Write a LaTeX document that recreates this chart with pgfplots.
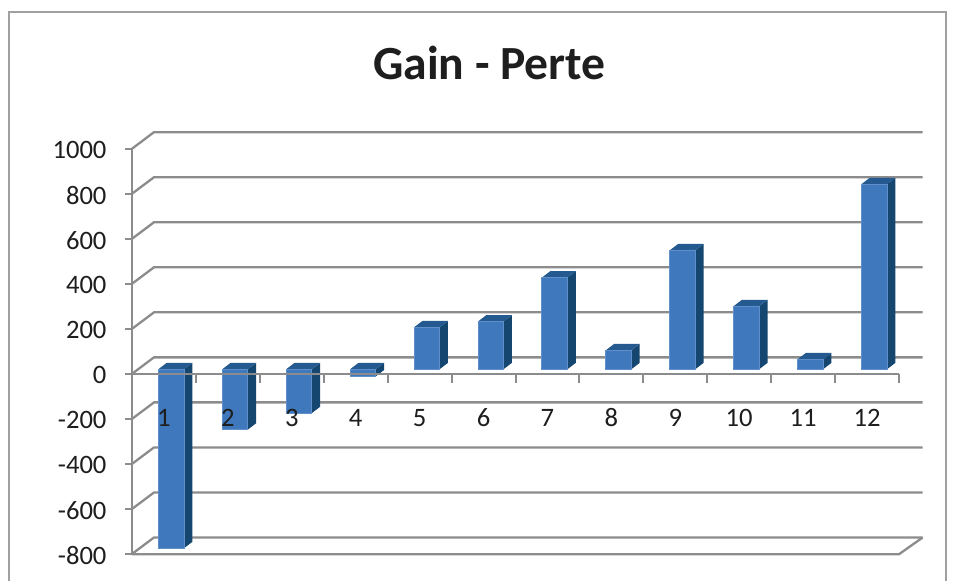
\documentclass[border=0pt]{standalone}
\usepackage{pgfplots}
\pgfplotsset{compat=1.18}
\usepackage{fontspec}
\setmainfont{Carlito}
\definecolor{barfront}{HTML}{3F78BC}
\definecolor{barside}{HTML}{144670}
\definecolor{bartop}{HTML}{245A90}
\definecolor{baredge}{HTML}{5F90C9}
\definecolor{wall}{HTML}{8C8C8C}
\definecolor{frameline}{HTML}{A0A0A0}
\definecolor{txt}{HTML}{1E1E1E}
% one back-wall gridline: y value
\newcommand\wallline[1]{%
  \pgfmathsetmacro\yb{#1+73.3}%
  \addplot[wall,line width=2.3pt,no markers] coordinates {(0.5,#1) (0.844,\yb) (12.87,\yb)};%
}
% one 3D bar: category, value
\newcommand\gbar[2]{%
  \pgfmathsetmacro\xa{#1+0.11-0.2}%
  \pgfmathsetmacro\xb{#1+0.11+0.2}%
  \pgfmathsetmacro\xc{\xb+0.133}%
  \pgfmathsetmacro\xd{\xa+0.133}%
  \pgfmathsetmacro\ytop{max(#2,0)+20}%
  \pgfmathsetmacro\ybot{min(#2,0)+20}%
  \pgfmathsetmacro\ytopb{\ytop+28.9}%
  \pgfmathsetmacro\ybotb{\ybot+28.9}%
  \addplot[fill=barside,draw=none,no markers] coordinates {(\xb,\ybot) (\xc,\ybotb) (\xc,\ytopb) (\xb,\ytop)} -- cycle;%
  \addplot[fill=bartop,draw=none,no markers] coordinates {(\xa,\ytop) (\xd,\ytopb) (\xc,\ytopb) (\xb,\ytop)} -- cycle;%
  \addplot[fill=barfront,draw=baredge,line width=0.5pt,no markers] coordinates {(\xa,\ybot) (\xa,\ytop) (\xb,\ytop) (\xb,\ybot)} -- cycle;%
}
\begin{document}
\begin{tikzpicture}[x=1pt,y=1pt]
\path[use as bounding box,fill=white] (0,0) rectangle (956,581);
\draw[frameline,line width=2pt] (8.5,-2) -- (8.5,568.5) -- (946,568.5) -- (946,-2);
\begin{axis}[
  at={(132pt,27pt)},anchor=south west,
  scale only axis,width=767pt,height=405.3pt,
  xmin=0.5,xmax=12.5,ymin=-800,ymax=1000,
  clip=false,axis on top,
  axis x line=middle,axis y line=left,
  axis line style={-,wall,line width=2.3pt},
  hide obscured x ticks=false,hide obscured y ticks=false,
  xtick={1,2,3,4,5,6,7,8,9,10,11,12},
  minor xtick={0.5,1.5,2.5,3.5,4.5,5.5,6.5,7.5,8.5,9.5,10.5,11.5,12.5},
  ytick={-800,-600,-400,-200,0,200,400,600,800,1000},
  tick align=outside,
  major tick length=7pt,minor tick length=9pt,
  tick style={wall,line width=2pt},
  every major x tick/.append style={draw=none},
  /pgf/number format/assume math mode=true,
  /pgf/number format/1000 sep={},
  tick label style={font=\fontsize{26.6}{30}\selectfont,text=txt},
  xticklabel style={anchor=center,yshift=-37pt},
  yticklabel style={anchor=east,xshift=-15pt,yshift=-1.5pt},
  title={\textbf{Gain - Perte}},
  title style={at={(axis description cs:0.466,1.1955)},anchor=center,font=\fontsize{47.6}{50}\selectfont,text=txt},
]
\wallline{-800}\wallline{-600}\wallline{-400}\wallline{-200}\wallline{0}
\wallline{200}\wallline{400}\wallline{600}\wallline{800}\wallline{1000}
\addplot[wall,line width=2.3pt,no markers] coordinates {(0.5,-801) (12.5,-801) (12.87,-726.7)};
\gbar{1}{-795}
\gbar{2}{-268}
\gbar{3}{-195}
\gbar{4}{-32}
\gbar{5}{186}
\gbar{6}{212}
\gbar{7}{407}
\gbar{8}{84}
\gbar{9}{528}
\gbar{10}{280}
\gbar{11}{44}
\gbar{12}{822}
\end{axis}
\end{tikzpicture}
\end{document}
